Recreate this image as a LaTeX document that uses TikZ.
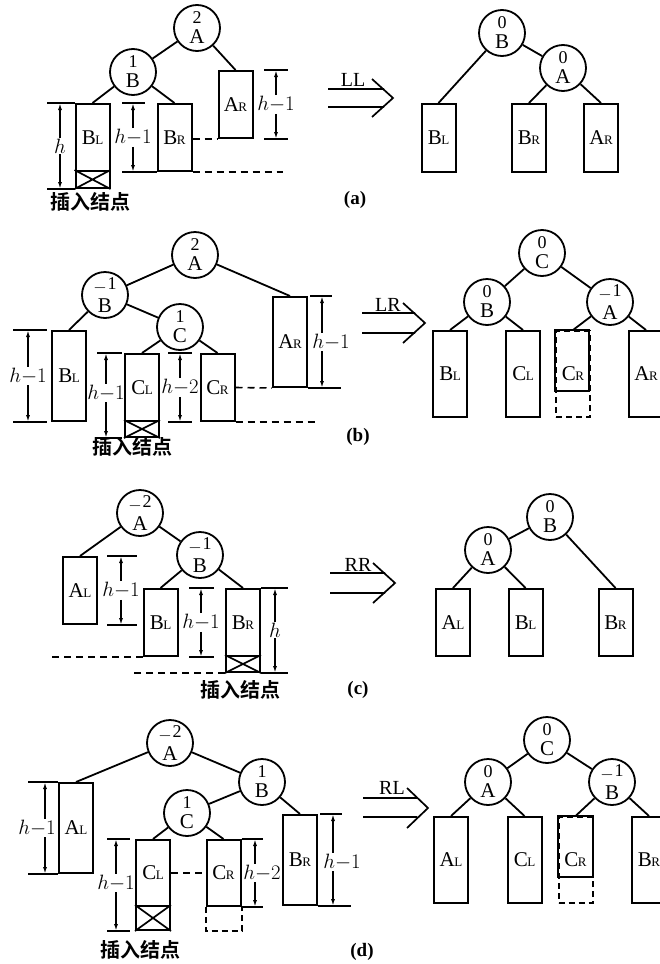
\documentclass[tikz,border=0pt]{standalone}
\usepackage{fontspec}
\setmainfont{Liberation Serif}
\newfontfamily\cjk{Noto Sans CJK SC}[BoldFont={Noto Sans CJK SC Bold}]
\usetikzlibrary{arrows.meta}
\tikzset{circ/.style={circle, draw, line width=1.8pt, minimum size=46pt, inner sep=0pt, align=center, font=\fontsize{21}{24}\selectfont}}
\tikzset{bx/.style={line width=2pt}}
\tikzset{tbox/.style={bx, draw, minimum width=34pt, inner sep=0pt, font=\fontsize{21}{24}\selectfont}}
\tikzset{ins/.style={bx, draw, minimum width=34pt, inner sep=0pt}}
\tikzset{tline/.style={line width=1.8pt}}
\tikzset{tk/.style={line width=1.7pt}}
\tikzset{dsh/.style={dash pattern=on 6pt off 4pt}}
\tikzset{refln/.style={line width=1.6pt, dash pattern=on 7pt off 5pt}}
\tikzset{hlbl/.style={inner sep=1pt, font=\fontsize{20}{22}\selectfont}}
\tikzset{dimln/.style={line width=1.4pt, -{Latex[length=7pt,width=4pt]}}}
\tikzset{rot/.style={inner sep=1pt, font=\fontsize{20}{22}\selectfont}}
\tikzset{tag/.style={inner sep=1pt, font=\bfseries\fontsize{19}{22}\selectfont}}
\tikzset{cjktxt/.style={inner sep=1pt, font=\cjk\bfseries\fontsize{20}{22}\selectfont}}
\newcommand\bal[2]{{\fontsize{18}{18}\selectfont #1}\\[-4pt]#2}
\newcommand\mneg[1]{$-$\kern1pt\raisebox{3pt}{#1}}
\newcommand\tsub[1]{\kern-0.5pt{\fontsize{13}{13}\selectfont #1}}

\begin{document}
\begin{tikzpicture}[x=1pt, y=-1pt]
\useasboundingbox (0,0) rectangle (660,964);

% (a) LL
\node[circ] (aA) at (197,28) {\bal{2}{A}};
\node[circ] (aB) at (133,72) {\bal{1}{B}};
\node[tbox, minimum height=67pt] (aBL) at (92.5,137.5) {B\tsub{L}};
\node[ins, minimum height=17pt] (aIns) at (92.5,179.5) {};
\node[tbox, minimum height=67pt] (aBR) at (174.5,137.5) {B\tsub{R}};
\node[tbox, minimum height=67pt] (aAR) at (235.5,104.5) {A\tsub{R}};
\draw[tline] (aA) -- (aB) (aA) -- (aAR.north) (aB) -- (aBL.north) (aB) -- (aBR.north);
\draw[tk] (aIns.north west) -- (aIns.south east) (aIns.north east) -- (aIns.south west);

\node[hlbl] (ah) at (60,146) {$h$};
\draw[dimln] (ah.north) -- (ah.north |- aBL.north);
\draw[dimln] (ah.south) -- (ah.south |- aIns.south);
\draw[tk] (aBL.north west) -- ++(-28,0);
\draw[tk] (aIns.south west) -- ++(-28,0);

\node[hlbl] (ahm) at (133,137.5) {$h{-}1$};
\draw[dimln] (ahm.north) -- (ahm.north |- aBR.north);
\draw[dimln] (ahm.south) -- (ahm.south |- aBR.south);
\draw[tk] (ahm.north |- aBR.north) ++(-11,0) -- ++(23,0);
\draw[tk] (ahm.south |- aBR.south) ++(-11,0) -- (aBR.south west);

\node[hlbl] (ahr) at (276,104.5) {$h{-}1$};
\draw[dimln] (ahr.north) -- (ahr.north |- aAR.north);
\draw[dimln] (ahr.south) -- (ahr.south |- aAR.south);
\draw[tk] (ahr.north |- aAR.north) ++(-12,0) -- ++(24,0);
\draw[tk] (ahr.south |- aAR.south) ++(-12,0) -- ++(24,0);
\draw[refln] (aBR.east |- aAR.south) -- (aAR.south west);
\draw[refln] (aBR.south east) -- ++(90,0);
\node[cjktxt] (ains) at (90,202) {插入结点};

\node[rot] (aLL) at (353,80) {LL};
\draw[tk] (328,89) -- (384,89) (328,107) -- (384,107) (372,79) -- (393,98) -- (372,117);

\node[circ] (raB) at (502,33) {\bal{0}{B}};
\node[circ] (raA) at (563,68) {\bal{0}{A}};
\node[tbox, minimum height=68pt] (raBL) at (438.5,138) {B\tsub{L}};
\node[tbox, minimum height=68pt] (raBR) at (529,138) {B\tsub{R}};
\node[tbox, minimum height=68pt] (raAR) at (601,138) {A\tsub{R}};
\draw[tline] (raB) -- (raA) (raB) -- (raBL.north) (raA) -- (raBR.north) (raA) -- (raAR.north);
\node[tag] (capa) at (355,200) {(a)};

% (b) LR
\node[circ] (bA) at (195,255) {\bal{2}{A}};
\node[circ] (bB) at (105,295) {\bal{\mneg{1}}{B}};
\node[circ] (bC) at (180,327) {\bal{1}{C}};
\node[tbox, minimum height=90pt] (bBL) at (69,376) {B\tsub{L}};
\node[tbox, minimum height=67pt] (bCL) at (142,387.5) {C\tsub{L}};
\node[ins, minimum height=16pt] (bIns) at (142,429) {};
\node[tbox, minimum height=67pt] (bCR) at (217.5,387.5) {C\tsub{R}};
\node[tbox, minimum height=90pt] (bAR) at (290,342) {A\tsub{R}};
\draw[tline] (bA) -- (bB) (bA) -- (bAR.north) (bB) -- (bBL.north) (bB) -- (bC) (bC) -- (bCL.north) (bC) -- (bCR.north);
\draw[tk] (bIns.north west) -- (bIns.south east) (bIns.north east) -- (bIns.south west);

\node[hlbl] (bh1) at (28,376) {$h{-}1$};
\draw[dimln] (bh1.north) -- (bh1.north |- bBL.north);
\draw[dimln] (bh1.south) -- (bh1.south |- bBL.south);
\draw[tk] (bh1.north |- bBL.north) ++(-15,0) -- ++(34,0);
\draw[tk] (bh1.south |- bBL.south) ++(-15,0) -- ++(34,0);

\node[hlbl] (bh2) at (106,393) {$h{-}1$};
\draw[dimln] (bh2.north) -- (bh2.north |- bCL.north);
\draw[dimln] (bh2.south) -- (bh2.south |- bIns.south);
\draw[tk] (bh2.north |- bCL.north) ++(-9,0) -- ++(25,0);
\draw[tk] (bh2.south |- bIns.south) ++(-9,0) -- ++(25,0);

\node[hlbl] (bh3) at (180,387.5) {$h{-}2$};
\draw[dimln] (bh3.north) -- (bh3.north |- bCR.north);
\draw[dimln] (bh3.south) -- (bh3.south |- bCR.south);
\draw[tk] (bh3.north |- bCR.north) ++(-12,0) -- ++(24,0);
\draw[tk] (bh3.south |- bCR.south) ++(-12,0) -- ++(24,0);

\node[hlbl] (bh4) at (331,342) {$h{-}1$};
\coordinate (bv) at (322,342);
\draw[dimln] (bv |- bh4.north) -- (bv |- bAR.north);
\draw[dimln] (bv |- bh4.south) -- (bv |- bAR.south);
\draw[tk] (bv |- bAR.north) ++(-12,0) -- ++(22,0);
\draw[tk] (bAR.south east) -- ++(33,0);
\draw[refln] (bCR.east) -- (bAR.south west);
\draw[refln] (bCR.south east) -- ++(82,0);
\node[cjktxt] (bins) at (132,447) {插入结点};

\node[rot] (bLR) at (388,305) {LR};
\draw[tk] (362,313) -- (415,313) (362,333) -- (415,333) (403,303) -- (425,323) -- (403,343);

\node[circ] (rbC) at (542,253) {\bal{0}{C}};
\node[circ] (rbB) at (487,302) {\bal{0}{B}};
\node[circ] (rbA) at (610,302) {\bal{\mneg{1}}{A}};
\node[tbox, minimum height=86pt] (rbBL) at (450,374) {B\tsub{L}};
\node[tbox, minimum height=86pt] (rbCL) at (523,374) {C\tsub{L}};
\node[tbox, dsh, minimum height=86pt] (rbCR) at (573,374) {C\tsub{R}};
\draw[bx] (rbCR.north west) rectangle ++(34,61);
\node[tbox, minimum height=86pt] (rbAR) at (646,374) {A\tsub{R}};
\draw[tline] (rbC) -- (rbB) (rbC) -- (rbA) (rbB) -- (rbBL.north) (rbB) -- (rbCL.north) (rbA) -- (rbCR.north) (rbA) -- (rbAR.north);
\node[tag] (capb) at (358,437) {(b)};

% (c) RR
\node[circ] (cA) at (140,513) {\bal{\mneg{2}}{A}};
\node[circ] (cB) at (200,555) {\bal{\mneg{1}}{B}};
\node[tbox, minimum height=67pt] (cAL) at (80,590.5) {A\tsub{L}};
\node[tbox, minimum height=67pt] (cBL) at (160.5,622.5) {B\tsub{L}};
\node[tbox, minimum height=67pt] (cBR) at (243,622.5) {B\tsub{R}};
\node[ins, minimum height=16pt] (cIns) at (243,664) {};
\draw[tline] (cA) -- (cAL.north) (cA) -- (cB) (cB) -- (cBL.north) (cB) -- (cBR.north);
\draw[tk] (cIns.north west) -- (cIns.south east) (cIns.north east) -- (cIns.south west);

\node[hlbl] (ch1) at (121,590.5) {$h{-}1$};
\draw[dimln] (ch1.north) -- (ch1.north |- cAL.north);
\draw[dimln] (ch1.south) -- (ch1.south |- cAL.south);
\draw[tk] (ch1.north |- cAL.north) ++(-14,0) -- ++(30,0);
\draw[tk] (ch1.south |- cAL.south) ++(-14,0) -- ++(30,0);

\node[hlbl] (ch2) at (201,622.5) {$h{-}1$};
\draw[dimln] (ch2.north) -- (ch2.north |- cBR.north);
\draw[dimln] (ch2.south) -- (ch2.south |- cBR.south);
\draw[tk] (ch2.north |- cBR.north) ++(-12,0) -- ++(25,0);
\draw[tk] (ch2.south |- cBR.south) ++(-12,0) -- ++(25,0);

\node[hlbl] (ch3) at (275,630) {$h$};
\draw[dimln] (ch3.north) -- (ch3.north |- cBR.north);
\draw[dimln] (ch3.south) -- (ch3.south |- cIns.south);
\draw[tk] (cBR.north east) -- ++(27,0);
\draw[tk] (cIns.south east) -- ++(27,0);
\draw[refln] (cBL.south west) -- ++(-91,0);
\draw[refln] (cIns.south west) -- ++(-93,0);
\node[cjktxt] (cins) at (240,690) {插入结点};

\node[rot] (cRR) at (358,565) {RR};
\draw[tk] (330,573) -- (385,573) (330,593) -- (385,593) (373,563) -- (395,583) -- (373,603);

\node[circ] (rcB) at (550,517) {\bal{0}{B}};
\node[circ] (rcA) at (488,550) {\bal{0}{A}};
\node[tbox, minimum height=67pt] (rcAL) at (453,622.5) {A\tsub{L}};
\node[tbox, minimum height=67pt] (rcBL) at (525.5,622.5) {B\tsub{L}};
\node[tbox, minimum height=67pt] (rcBR) at (615.5,622.5) {B\tsub{R}};
\draw[tline] (rcB) -- (rcA) (rcB) -- (rcBR.north) (rcA) -- (rcAL.north) (rcA) -- (rcBL.north);
\node[tag] (capc) at (358,690) {(c)};

% (d) RL
\node[circ] (dA) at (170,743) {\bal{\mneg{2}}{A}};
\node[circ] (dB) at (262,782) {\bal{1}{B}};
\node[circ] (dC) at (187,813) {\bal{1}{C}};
\node[tbox, minimum height=90pt] (dAL) at (76,828) {A\tsub{L}};
\node[tbox, minimum height=66pt] (dCL) at (153,873) {C\tsub{L}};
\node[ins, minimum height=24pt] (dIns) at (153,918) {};
\node[tbox, minimum height=66pt] (dCR) at (223.5,873) {C\tsub{R}};
\draw[bx, dsh] (dCR.south west) -- ++(0,24) -| (dCR.south east);
\node[tbox, minimum height=90pt] (dBR) at (300,860) {B\tsub{R}};
\draw[tline] (dA) -- (dAL.north) (dA) -- (dB) (dB) -- (dC) (dB) -- (dBR.north) (dC) -- (dCL.north) (dC) -- (dCR.north);
\draw[tk] (dIns.north west) -- (dIns.south east) (dIns.north east) -- (dIns.south west);

\node[hlbl] (dh1) at (37,828) {$h{-}1$};
\coordinate (dv1) at (45,828);
\draw[dimln] (dv1 |- dh1.north) -- (dv1 |- dAL.north);
\draw[dimln] (dv1 |- dh1.south) -- (dv1 |- dAL.south);
\draw[tk] (dv1 |- dAL.north) ++(-17,0) -- ++(30,0);
\draw[tk] (dv1 |- dAL.south) ++(-17,0) -- ++(30,0);

\node[hlbl] (dh2) at (116,883) {$h{-}1$};
\draw[dimln] (dh2.north) -- (dh2.north |- dCL.north);
\draw[dimln] (dh2.south) -- (dh2.south |- dIns.south);
\draw[tk] (dh2.north |- dCL.north) ++(-9,0) -- ++(23,0);
\draw[tk] (dh2.south |- dIns.south) ++(-9,0) -- ++(23,0);

\node[hlbl] (dh3) at (262,873) {$h{-}2$};
\coordinate (dv3) at (255,873);
\draw[dimln] (dv3 |- dh3.north) -- (dv3 |- dCR.north);
\draw[dimln] (dv3 |- dh3.south) -- (dv3 |- dCR.south);
\draw[tk] (dCR.north east) -- ++(21,0);
\draw[tk] (dCR.south east) -- ++(21,0);

\node[hlbl] (dh4) at (342,862) {$h{-}1$};
\coordinate (dv4) at (333,862);
\draw[dimln] (dv4 |- dh4.north) -- (dv4 |- dBR.north);
\draw[dimln] (dv4 |- dh4.south) -- (dv4 |- dBR.south);
\draw[tk] (dv4 |- dBR.north) ++(-13,0) -- ++(22,0);
\draw[tk] (dBR.south east) -- ++(33,0);
\draw[refln] (dCL.east) -- (dCR.west);
\node[cjktxt] (dins) at (140,950) {插入结点};

\node[rot] (dRL) at (392,788) {RL};
\draw[tk] (363,798) -- (417,798) (363,817) -- (417,817) (407,788) -- (428,808) -- (407,828);

\node[circ] (rdC) at (547,740) {\bal{0}{C}};
\node[circ] (rdA) at (488,782) {\bal{0}{A}};
\node[circ] (rdB) at (612,782) {\bal{\mneg{1}}{B}};
\node[tbox, minimum height=86pt] (rdAL) at (451,860) {A\tsub{L}};
\node[tbox, minimum height=86pt] (rdCL) at (524.5,860) {C\tsub{L}};
\node[tbox, dsh, minimum height=86pt] (rdCR) at (575.5,860) {C\tsub{R}};
\draw[bx] (rdCR.north west) rectangle ++(35,61);
\node[tbox, minimum height=86pt] (rdBR) at (649,860) {B\tsub{R}};
\draw[tline] (rdC) -- (rdA) (rdC) -- (rdB) (rdA) -- (rdAL.north) (rdA) -- (rdCL.north) (rdB) -- (rdCR.north) (rdB) -- (rdBR.north);
\node[tag] (capd) at (362,952) {(d)};

\end{tikzpicture}
\end{document}
